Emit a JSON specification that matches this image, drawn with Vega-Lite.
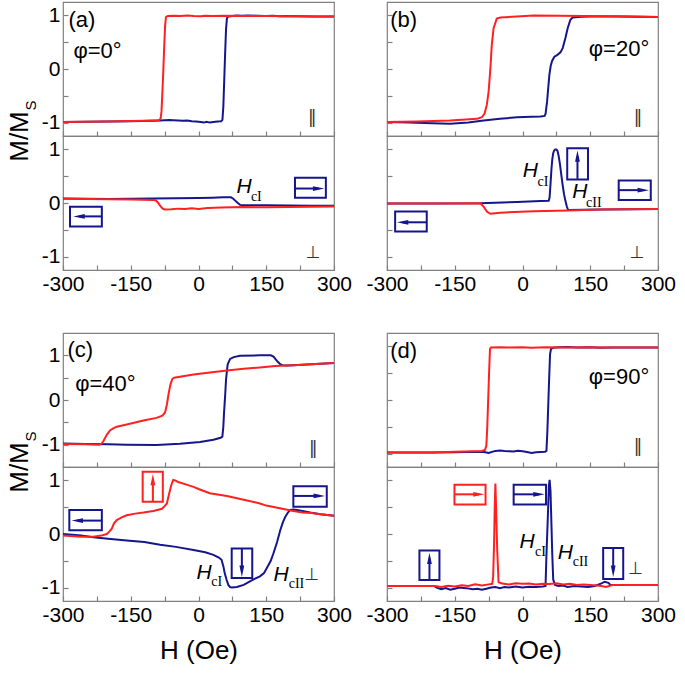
{
"$schema":"https://vega.github.io/schema/vega-lite/v6.json",
"background":"white",
"padding":{"left":5,"top":1,"right":5,"bottom":5},
"datasets":{
"au_up":[{"H":-300,"M":-0.99},{"H":-250,"M":-0.985},{"H":-200,"M":-0.98},{"H":-150,"M":-0.975},{"H":-100,"M":-0.965},{"H":-85,"M":-0.96},{"H":-75,"M":-0.955},{"H":-65,"M":-0.95},{"H":-55,"M":-0.955},{"H":-45,"M":-0.96},{"H":-35,"M":-0.965},{"H":-25,"M":-0.96},{"H":-15,"M":-0.975},{"H":-5,"M":-0.98},{"H":5,"M":-0.99},{"H":12,"M":-1.0},{"H":18,"M":-0.985},{"H":25,"M":-1.0},{"H":33,"M":-0.99},{"H":42,"M":-0.98},{"H":50,"M":-0.975},{"H":53,"M":-0.95},{"H":55,"M":-0.7},{"H":57,"M":-0.2},{"H":59,"M":0.3},{"H":61,"M":0.75},{"H":63,"M":0.95},{"H":66,"M":0.98},{"H":75,"M":0.99},{"H":85,"M":1.0},{"H":95,"M":0.995},{"H":110,"M":1.0},{"H":130,"M":0.995},{"H":150,"M":0.99},{"H":165,"M":0.995},{"H":180,"M":0.985},{"H":190,"M":0.99},{"H":220,"M":0.985},{"H":260,"M":0.98},{"H":300,"M":0.98}],
"au_dn":[{"H":-300,"M":-0.99},{"H":-250,"M":-0.985},{"H":-200,"M":-0.98},{"H":-150,"M":-0.97},{"H":-120,"M":-0.965},{"H":-100,"M":-0.96},{"H":-88,"M":-0.955},{"H":-84,"M":-0.93},{"H":-82,"M":-0.8},{"H":-80,"M":-0.45},{"H":-78,"M":-0.05},{"H":-76,"M":0.4},{"H":-74,"M":0.8},{"H":-72,"M":0.97},{"H":-68,"M":0.99},{"H":-55,"M":0.995},{"H":-40,"M":0.99},{"H":-25,"M":1.0},{"H":-10,"M":0.99},{"H":5,"M":0.985},{"H":15,"M":0.995},{"H":30,"M":0.99},{"H":60,"M":0.995},{"H":100,"M":0.99},{"H":150,"M":0.99},{"H":200,"M":0.985},{"H":250,"M":0.98},{"H":300,"M":0.98}],
"al_up":[{"H":-300,"M":0.085},{"H":-250,"M":0.08},{"H":-200,"M":0.075},{"H":-150,"M":0.08},{"H":-100,"M":0.085},{"H":-50,"M":0.09},{"H":0,"M":0.095},{"H":30,"M":0.1},{"H":55,"M":0.105},{"H":72,"M":0.105},{"H":77,"M":0.08},{"H":82,"M":0.04},{"H":87,"M":0.0},{"H":92,"M":-0.035},{"H":100,"M":-0.04},{"H":150,"M":-0.04},{"H":200,"M":-0.045},{"H":250,"M":-0.05},{"H":300,"M":-0.05}],
"al_dn":[{"H":-300,"M":0.08},{"H":-250,"M":0.075},{"H":-200,"M":0.07},{"H":-150,"M":0.065},{"H":-100,"M":0.055},{"H":-95,"M":0.05},{"H":-90,"M":0.01},{"H":-85,"M":-0.05},{"H":-80,"M":-0.1},{"H":-75,"M":-0.12},{"H":-60,"M":-0.115},{"H":-45,"M":-0.105},{"H":-30,"M":-0.11},{"H":-15,"M":-0.1},{"H":0,"M":-0.11},{"H":20,"M":-0.095},{"H":50,"M":-0.085},{"H":100,"M":-0.075},{"H":150,"M":-0.08},{"H":200,"M":-0.075},{"H":250,"M":-0.07},{"H":300,"M":-0.065}],
"bu_up":[{"H":-300,"M":-0.99},{"H":-250,"M":-1.0},{"H":-200,"M":-1.01},{"H":-160,"M":-1.02},{"H":-120,"M":-1.0},{"H":-86,"M":-0.96},{"H":-50,"M":-0.93},{"H":-12,"M":-0.9},{"H":20,"M":-0.89},{"H":40,"M":-0.885},{"H":49,"M":-0.875},{"H":51,"M":-0.84},{"H":54.4,"M":-0.61},{"H":57,"M":-0.35},{"H":59.5,"M":-0.11},{"H":62.5,"M":0.06},{"H":65.5,"M":0.15},{"H":70.6,"M":0.23},{"H":76.6,"M":0.26},{"H":84,"M":0.31},{"H":89,"M":0.39},{"H":95,"M":0.58},{"H":100,"M":0.76},{"H":106,"M":0.92},{"H":111,"M":0.96},{"H":130,"M":0.975},{"H":150,"M":0.98},{"H":200,"M":0.98},{"H":250,"M":0.975},{"H":300,"M":0.97}],
"bu_dn":[{"H":-300,"M":-0.99},{"H":-234,"M":-0.98},{"H":-160,"M":-0.96},{"H":-101,"M":-0.93},{"H":-90,"M":-0.9},{"H":-84,"M":-0.83},{"H":-79,"M":-0.67},{"H":-75,"M":-0.42},{"H":-71,"M":0.02},{"H":-68,"M":0.45},{"H":-64,"M":0.76},{"H":-57,"M":0.94},{"H":-49,"M":0.96},{"H":25,"M":1.0},{"H":136,"M":0.99},{"H":220,"M":0.985},{"H":300,"M":0.97}],
"bl_up":[{"H":-300,"M":-0.01},{"H":-200,"M":-0.01},{"H":-93.6,"M":-0.005},{"H":-12,"M":0.02},{"H":40,"M":0.035},{"H":58,"M":0.04},{"H":60,"M":0.1},{"H":62,"M":0.35},{"H":64,"M":0.62},{"H":66,"M":0.82},{"H":68,"M":0.93},{"H":70,"M":0.98},{"H":72.5,"M":1.0},{"H":75,"M":1.0},{"H":77.5,"M":0.97},{"H":80,"M":0.88},{"H":83,"M":0.72},{"H":86,"M":0.52},{"H":89,"M":0.33},{"H":92,"M":0.16},{"H":95,"M":0.04},{"H":98,"M":-0.06},{"H":101,"M":-0.13},{"H":172.7,"M":-0.12},{"H":300,"M":-0.11}],
"bl_dn":[{"H":-300,"M":-0.01},{"H":-200,"M":-0.01},{"H":-93.6,"M":-0.005},{"H":-86.2,"M":-0.068},{"H":-78.8,"M":-0.16},{"H":-71.4,"M":-0.2},{"H":-49,"M":-0.18},{"H":24.8,"M":-0.155},{"H":101,"M":-0.14},{"H":172.7,"M":-0.12},{"H":300,"M":-0.11}],
"cu_up":[{"H":-300,"M":-0.975},{"H":-250,"M":-0.985},{"H":-200,"M":-0.99},{"H":-159,"M":-1.0},{"H":-93,"M":-1.01},{"H":-41,"M":-0.98},{"H":3.5,"M":-0.94},{"H":33,"M":-0.89},{"H":49,"M":-0.845},{"H":52.8,"M":-0.82},{"H":55,"M":-0.6},{"H":56.5,"M":-0.29},{"H":59,"M":0.1},{"H":61,"M":0.46},{"H":64.6,"M":0.8},{"H":70,"M":0.92},{"H":78,"M":0.96},{"H":92,"M":0.99},{"H":136,"M":1.0},{"H":160,"M":1.0},{"H":166,"M":0.97},{"H":171,"M":0.91},{"H":176,"M":0.85},{"H":181,"M":0.8},{"H":187,"M":0.775},{"H":195,"M":0.77},{"H":210,"M":0.78},{"H":250,"M":0.8},{"H":300,"M":0.83}],
"cu_dn":[{"H":-300,"M":-0.985},{"H":-250,"M":-0.99},{"H":-220,"M":-1.0},{"H":-215,"M":-0.98},{"H":-211,"M":-0.93},{"H":-203,"M":-0.78},{"H":-196,"M":-0.68},{"H":-188,"M":-0.63},{"H":-181,"M":-0.6},{"H":-159,"M":-0.55},{"H":-122,"M":-0.46},{"H":-93,"M":-0.4},{"H":-80,"M":-0.35},{"H":-74,"M":-0.28},{"H":-70,"M":-0.1},{"H":-66,"M":0.15},{"H":-62,"M":0.35},{"H":-58,"M":0.47},{"H":-54,"M":0.5},{"H":-11,"M":0.57},{"H":30,"M":0.62},{"H":63,"M":0.66},{"H":100,"M":0.7},{"H":136,"M":0.73},{"H":170,"M":0.76},{"H":210,"M":0.78},{"H":250,"M":0.8},{"H":300,"M":0.83}],
"cl_up":[{"H":-300,"M":0.0},{"H":-260,"M":-0.03},{"H":-233,"M":-0.06},{"H":-200,"M":-0.09},{"H":-159,"M":-0.12},{"H":-120,"M":-0.15},{"H":-85,"M":-0.2},{"H":-50,"M":-0.24},{"H":-11,"M":-0.3},{"H":15,"M":-0.34},{"H":33,"M":-0.39},{"H":45,"M":-0.44},{"H":51,"M":-0.48},{"H":55,"M":-0.6},{"H":58,"M":-0.73},{"H":62,"M":-0.85},{"H":66,"M":-0.95},{"H":70,"M":-0.99},{"H":74,"M":-1.0},{"H":85,"M":-0.99},{"H":100,"M":-0.95},{"H":121,"M":-0.85},{"H":136,"M":-0.79},{"H":145,"M":-0.73},{"H":151,"M":-0.64},{"H":160,"M":-0.5},{"H":166,"M":-0.36},{"H":174,"M":-0.15},{"H":181,"M":0.07},{"H":187,"M":0.22},{"H":192,"M":0.32},{"H":198,"M":0.4},{"H":203,"M":0.45},{"H":210,"M":0.455},{"H":218,"M":0.45},{"H":230,"M":0.43},{"H":247,"M":0.4},{"H":270,"M":0.37},{"H":300,"M":0.34}],
"cl_dn":[{"H":-300,"M":-0.03},{"H":-260,"M":-0.05},{"H":-233,"M":-0.05},{"H":-215,"M":-0.03},{"H":-203,"M":0.0},{"H":-198,"M":0.04},{"H":-192,"M":0.1},{"H":-187,"M":0.2},{"H":-181,"M":0.26},{"H":-170,"M":0.31},{"H":-159,"M":0.35},{"H":-140,"M":0.38},{"H":-122,"M":0.4},{"H":-100,"M":0.43},{"H":-81,"M":0.47},{"H":-75,"M":0.52},{"H":-70,"M":0.57},{"H":-67,"M":0.68},{"H":-63,"M":0.82},{"H":-60,"M":0.92},{"H":-56,"M":1.01},{"H":-52,"M":1.0},{"H":-45,"M":0.97},{"H":-30,"M":0.93},{"H":-11,"M":0.88},{"H":0,"M":0.84},{"H":25,"M":0.76},{"H":63,"M":0.71},{"H":100,"M":0.64},{"H":136,"M":0.57},{"H":150,"M":0.53},{"H":180,"M":0.48},{"H":210,"M":0.43},{"H":230,"M":0.4},{"H":250,"M":0.39},{"H":270,"M":0.37},{"H":300,"M":0.34}],
"du_up":[{"H":-300,"M":-0.98},{"H":-200,"M":-0.98},{"H":-150,"M":-0.975},{"H":-100,"M":-0.965},{"H":-85,"M":-0.97},{"H":-75,"M":-0.99},{"H":-60,"M":-0.95},{"H":-50,"M":-0.94},{"H":-40,"M":-0.95},{"H":-30,"M":-0.955},{"H":-20,"M":-0.96},{"H":-10,"M":-0.945},{"H":0,"M":-0.955},{"H":10,"M":-0.97},{"H":20,"M":-0.99},{"H":30,"M":-0.975},{"H":40,"M":-0.97},{"H":50,"M":-0.965},{"H":53,"M":-0.95},{"H":55,"M":-0.6},{"H":57,"M":-0.1},{"H":59,"M":0.4},{"H":61,"M":0.85},{"H":63,"M":0.95},{"H":68,"M":0.975},{"H":80,"M":0.985},{"H":100,"M":0.99},{"H":120,"M":0.98},{"H":150,"M":0.985},{"H":170,"M":0.975},{"H":200,"M":0.98},{"H":300,"M":0.98}],
"du_dn":[{"H":-300,"M":-0.98},{"H":-250,"M":-0.98},{"H":-200,"M":-0.98},{"H":-150,"M":-0.965},{"H":-130,"M":-0.96},{"H":-110,"M":-0.955},{"H":-90,"M":-0.95},{"H":-83,"M":-0.93},{"H":-80,"M":-0.85},{"H":-78,"M":-0.5},{"H":-76,"M":0.0},{"H":-74,"M":0.5},{"H":-72,"M":0.95},{"H":-70,"M":0.98},{"H":-50,"M":0.985},{"H":-30,"M":0.98},{"H":0,"M":0.985},{"H":20,"M":0.975},{"H":50,"M":0.985},{"H":100,"M":0.98},{"H":150,"M":0.985},{"H":200,"M":0.98},{"H":300,"M":0.98}],
"dl_up":[{"H":-300,"M":-0.97},{"H":-250,"M":-0.97},{"H":-196,"M":-0.97},{"H":-190,"M":-1.0},{"H":-180,"M":-1.03},{"H":-170,"M":-1.01},{"H":-160,"M":-1.04},{"H":-150,"M":-1.02},{"H":-140,"M":-1.0},{"H":-125,"M":-1.01},{"H":-110,"M":-1.03},{"H":-100,"M":-1.02},{"H":-90,"M":-1.04},{"H":-80,"M":-1.02},{"H":-70,"M":-1.0},{"H":-60,"M":-0.99},{"H":-50,"M":-1.01},{"H":-40,"M":-0.99},{"H":-30,"M":-1.0},{"H":-15,"M":-0.98},{"H":0,"M":-1.0},{"H":15,"M":-0.985},{"H":30,"M":-0.99},{"H":45,"M":-0.98},{"H":51,"M":-0.97},{"H":53,"M":-0.4},{"H":56,"M":0.3},{"H":58.5,"M":0.9},{"H":60,"M":1.01},{"H":62,"M":0.8},{"H":64,"M":0.2},{"H":66,"M":-0.4},{"H":68,"M":-0.85},{"H":72,"M":-0.95},{"H":80,"M":-0.97},{"H":90,"M":-0.96},{"H":100,"M":-0.99},{"H":115,"M":-0.97},{"H":130,"M":-0.98},{"H":145,"M":-0.99},{"H":160,"M":-0.97},{"H":175,"M":-0.92},{"H":182,"M":-0.89},{"H":190,"M":-0.91},{"H":195,"M":-0.95},{"H":200,"M":-0.95},{"H":300,"M":-0.95}],
"dl_dn":[{"H":-300,"M":-0.97},{"H":-250,"M":-0.97},{"H":-196,"M":-0.97},{"H":-190,"M":-0.975},{"H":-180,"M":-0.99},{"H":-165,"M":-0.965},{"H":-150,"M":-0.98},{"H":-135,"M":-0.955},{"H":-120,"M":-0.97},{"H":-105,"M":-0.94},{"H":-90,"M":-0.96},{"H":-75,"M":-0.94},{"H":-67,"M":-0.93},{"H":-65,"M":-0.8},{"H":-63,"M":-0.2},{"H":-61.5,"M":0.5},{"H":-60,"M":0.94},{"H":-58.5,"M":0.5},{"H":-56,"M":-0.3},{"H":-53,"M":-0.9},{"H":-45,"M":-0.925},{"H":-30,"M":-0.94},{"H":-15,"M":-0.92},{"H":0,"M":-0.93},{"H":15,"M":-0.925},{"H":30,"M":-0.94},{"H":45,"M":-0.93},{"H":60,"M":-0.935},{"H":75,"M":-0.92},{"H":90,"M":-0.94},{"H":105,"M":-0.93},{"H":120,"M":-0.95},{"H":135,"M":-0.94},{"H":150,"M":-0.95},{"H":165,"M":-0.96},{"H":175,"M":-0.97},{"H":185,"M":-0.99},{"H":195,"M":-0.96},{"H":200,"M":-0.95},{"H":300,"M":-0.95}],
"texts":[
{"p":"au","k":"n","t":"(a)","H":-288,"M":0.91},{"p":"au","k":"n","t":"φ=0°","H":-277,"M":0.33},{"p":"au","k":"s","t":"‖","H":252,"M":-0.92},
{"p":"bu","k":"n","t":"(b)","H":-293,"M":0.92},{"p":"bu","k":"n","t":"φ=20°","H":146.8,"M":0.37},{"p":"bu","k":"s","t":"‖","H":255.6,"M":-0.92},
{"p":"cu","k":"n","t":"(c)","H":-290,"M":1.11},{"p":"cu","k":"n","t":"φ=40°","H":-273,"M":0.36},{"p":"cu","k":"s","t":"‖","H":254,"M":-1.09},
{"p":"du","k":"n","t":"(d)","H":-293,"M":0.92},{"p":"du","k":"n","t":"φ=90°","H":146.8,"M":0.42},{"p":"du","k":"s","t":"‖","H":255.6,"M":-0.87},
{"p":"al","k":"s","t":"⊥","H":254,"M":-0.93},{"p":"al","k":"h","t":"H","H":100.7,"M":0.29},{"p":"al","k":"c","t":"cI","H":128,"M":0.105},
{"p":"bl","k":"s","t":"⊥","H":254,"M":-0.93},{"p":"bl","k":"h","t":"H","H":17.4,"M":0.6},{"p":"bl","k":"c","t":"cI","H":45.5,"M":0.39},{"p":"bl","k":"h","t":"H","H":126.8,"M":0.2},{"p":"bl","k":"c","t":"cII","H":158,"M":-0.006},
{"p":"cl","k":"s","t":"⊥","H":251,"M":-0.76},{"p":"cl","k":"h","t":"H","H":12.2,"M":-0.73},{"p":"cl","k":"c","t":"cI","H":40.2,"M":-0.9},{"p":"cl","k":"h","t":"H","H":182.6,"M":-0.76},{"p":"cl","k":"c","t":"cII","H":217,"M":-0.94},
{"p":"dl","k":"s","t":"⊥","H":250.4,"M":-0.66},{"p":"dl","k":"h","t":"H","H":10,"M":-0.14},{"p":"dl","k":"c","t":"cI","H":39.6,"M":-0.33},{"p":"dl","k":"h","t":"H","H":95,"M":-0.36},{"p":"dl","k":"c","t":"cII","H":128.3,"M":-0.53}],
"boxes":[
{"p":"al","b":"up","H":-284.5,"H2":-214,"M":-0.07,"M2":-0.44},{"p":"al","b":"up","H":213.6,"H2":282,"M":0.1,"M2":0.47},
{"p":"bl","b":"up","H":-282,"H2":-212,"M":-0.53,"M2":-0.16},{"p":"bl","b":"up","H":99,"H2":145,"M":0.44,"M2":1.02},{"p":"bl","b":"up","H":213,"H2":284,"M":0.055,"M2":0.42},
{"p":"cl","b":"down","H":-123.6,"H2":-79,"M":0.6,"M2":1.16},{"p":"cl","b":"up","H":-286,"H2":-214,"M":0.07,"M2":0.45},{"p":"cl","b":"up","H":210,"H2":284,"M":0.51,"M2":0.89},{"p":"cl","b":"up","H":73.5,"H2":119,"M":-0.82,"M2":-0.27},
{"p":"dl","b":"up","H":-228.2,"H2":-183.9,"M":-0.86,"M2":-0.31},{"p":"dl","b":"down","H":-150.6,"H2":-81.8,"M":0.55,"M2":0.92},{"p":"dl","b":"up","H":-19.6,"H2":52.1,"M":0.55,"M2":0.92},{"p":"dl","b":"up","H":178.6,"H2":223,"M":-0.84,"M2":-0.26}],
"arrows":[
{"p":"al","b":"up","d":"l","H":-264.4,"M":-0.25,"H2":-214,"M2":-0.25},{"p":"al","b":"up","d":"r","H":266,"M":0.27,"H2":213.6,"M2":0.27},
{"p":"bl","b":"up","d":"l","H":-265.4,"M":-0.36,"H2":-212,"M2":-0.36},{"p":"bl","b":"up","d":"u","H":121.7,"M":0.875,"H2":121.7,"M2":0.45},{"p":"bl","b":"up","d":"r","H":267.4,"M":0.24,"H2":213,"M2":0.24},
{"p":"cl","b":"down","d":"u","H":-101,"M":1.015,"H2":-101,"M2":0.61},{"p":"cl","b":"up","d":"l","H":-268.4,"M":0.25,"H2":-214,"M2":0.25},{"p":"cl","b":"up","d":"r","H":267.4,"M":0.71,"H2":210,"M2":0.71},{"p":"cl","b":"up","d":"d","H":96,"M":-0.695,"H2":96,"M2":-0.28},
{"p":"dl","b":"up","d":"u","H":-206,"M":-0.455,"H2":-206,"M2":-0.85},{"p":"dl","b":"down","d":"r","H":-96.6,"M":0.74,"H2":-150.6,"M2":0.74},{"p":"dl","b":"up","d":"r","H":36.4,"M":0.74,"H2":-19.6,"M2":0.74},{"p":"dl","b":"up","d":"d","H":200.8,"M":-0.695,"H2":200.8,"M2":-0.27}]
},
"spacing":37,
"vconcat":[
{"hconcat":[
 {"vconcat":[
  {"width":271,"height":134,
   "encoding":{"x":{"field":"H","type":"quantitative","scale":{"domain":[-300,300],"nice":false,"zero":false},"axis":{"values":[-300,-225,-150,-75,0,75,150,225,300],"labels":false,"title":null}},
    "y":{"field":"M","type":"quantitative","scale":{"domain":[-1.25,1.25],"nice":false,"zero":false},"axis":{"values":[-1,-0.5,0,0.5,1],"labelExpr":"datum.value % 1 === 0 ? '' + datum.value : ''","title":"M/M","titleX":-44,"titleY":134,"titleAlign":"center","titleBaseline":"middle"}}},
   "layer":[
    {"data":{"name":"au_up"},"mark":{"type":"line","color":"#16168c","strokeWidth":2},"encoding":{}},
    {"data":{"name":"au_dn"},"mark":{"type":"line","color":"#ff2020","strokeWidth":2},"encoding":{}},
    {"data":{"name":"texts"},"transform":[{"filter":"datum.p=='au' && datum.k=='n'"}],"mark":{"type":"text","align":"left","baseline":"middle","fontSize":22,"color":"#000"},"encoding":{"text":{"field":"t"}}},
    {"data":{"name":"texts"},"transform":[{"filter":"datum.p=='au' && datum.k=='s'"}],"mark":{"type":"text","align":"center","baseline":"middle","fontSize":17,"font":"DejaVu Sans","color":"#333"},"encoding":{"text":{"field":"t"}}}
   ]},
  {"width":271,"height":134,
   "encoding":{"x":{"field":"H","type":"quantitative","scale":{"domain":[-300,300],"nice":false,"zero":false},"axis":{"values":[-300,-225,-150,-75,0,75,150,225,300],"labelExpr":"datum.value % 150 === 0 ? '' + datum.value : ''","title":null}},
    "y":{"field":"M","type":"quantitative","scale":{"domain":[-1.25,1.25],"nice":false,"zero":false},"axis":{"values":[-1,-0.5,0,0.5,1],"labelExpr":"datum.value % 1 === 0 ? '' + datum.value : ''","title":"S","titleFontSize":15,"titleX":-33,"titleY":-31,"titleAlign":"center","titleBaseline":"middle"}}},
   "layer":[
    {"data":{"name":"al_up"},"mark":{"type":"line","color":"#16168c","strokeWidth":2},"encoding":{}},
    {"data":{"name":"al_dn"},"mark":{"type":"line","color":"#ff2020","strokeWidth":2},"encoding":{}},
    {"data":{"name":"boxes"},"transform":[{"filter":"datum.p=='al'"}],"mark":{"type":"rect","filled":false,"strokeWidth":2},"encoding":{"x2":{"field":"H2"},"y2":{"field":"M2"},"color":{"field":"b","type":"nominal","scale":{"domain":["up","down"],"range":["#16168c","#ff2020"]},"legend":null}}},
    {"data":{"name":"arrows"},"transform":[{"filter":"datum.p=='al'"}],"mark":{"type":"rule","strokeWidth":2},"encoding":{"x2":{"field":"H2"},"y2":{"field":"M2"},"color":{"field":"b","type":"nominal","scale":{"domain":["up","down"],"range":["#16168c","#ff2020"]},"legend":null}}},
    {"data":{"name":"arrows"},"transform":[{"filter":"datum.p=='al'"}],"mark":{"type":"point","filled":true,"opacity":1,"size":130},"encoding":{"color":{"field":"b","type":"nominal","scale":{"domain":["up","down"],"range":["#16168c","#ff2020"]},"legend":null},"shape":{"field":"d","type":"nominal","scale":{"domain":["u","r","d","l"],"range":["M0,-1L0.42,1L-0.42,1Z","M1,0L-1,0.42L-1,-0.42Z","M0,1L0.42,-1L-0.42,-1Z","M-1,0L1,0.42L1,-0.42Z"]},"legend":null}}},
    {"data":{"name":"texts"},"transform":[{"filter":"datum.p=='al' && datum.k=='s'"}],"mark":{"type":"text","align":"center","baseline":"middle","fontSize":17,"font":"DejaVu Sans","color":"#333"},"encoding":{"text":{"field":"t"}}},
    {"data":{"name":"texts"},"transform":[{"filter":"datum.p=='al' && datum.k=='h'"}],"mark":{"type":"text","align":"center","baseline":"middle","fontSize":21,"fontStyle":"italic","color":"#000"},"encoding":{"text":{"field":"t"}}},
    {"data":{"name":"texts"},"transform":[{"filter":"datum.p=='al' && datum.k=='c'"}],"mark":{"type":"text","align":"center","baseline":"middle","fontSize":14,"font":"Liberation Serif","color":"#000"},"encoding":{"text":{"field":"t"}}}
   ]}
 ],"spacing":0,"bounds":"flush"},
 {"vconcat":[
  {"width":271,"height":134,
   "encoding":{"x":{"field":"H","type":"quantitative","scale":{"domain":[-300,300],"nice":false,"zero":false},"axis":{"values":[-300,-225,-150,-75,0,75,150,225,300],"labels":false,"title":null}},
    "y":{"field":"M","type":"quantitative","scale":{"domain":[-1.25,1.25],"nice":false,"zero":false},"axis":{"values":[-1,-0.5,0,0.5,1],"labels":false,"title":null}}},
   "layer":[
    {"data":{"name":"bu_up"},"mark":{"type":"line","color":"#16168c","strokeWidth":2},"encoding":{}},
    {"data":{"name":"bu_dn"},"mark":{"type":"line","color":"#ff2020","strokeWidth":2},"encoding":{}},
    {"data":{"name":"texts"},"transform":[{"filter":"datum.p=='bu' && datum.k=='n'"}],"mark":{"type":"text","align":"left","baseline":"middle","fontSize":22,"color":"#000"},"encoding":{"text":{"field":"t"}}},
    {"data":{"name":"texts"},"transform":[{"filter":"datum.p=='bu' && datum.k=='s'"}],"mark":{"type":"text","align":"center","baseline":"middle","fontSize":17,"font":"DejaVu Sans","color":"#333"},"encoding":{"text":{"field":"t"}}}
   ]},
  {"width":271,"height":134,
   "encoding":{"x":{"field":"H","type":"quantitative","scale":{"domain":[-300,300],"nice":false,"zero":false},"axis":{"values":[-300,-225,-150,-75,0,75,150,225,300],"labelExpr":"datum.value % 150 === 0 ? '' + datum.value : ''","title":null}},
    "y":{"field":"M","type":"quantitative","scale":{"domain":[-1.25,1.25],"nice":false,"zero":false},"axis":{"values":[-1,-0.5,0,0.5,1],"labels":false,"title":null}}},
   "layer":[
    {"data":{"name":"bl_up"},"mark":{"type":"line","color":"#16168c","strokeWidth":2},"encoding":{}},
    {"data":{"name":"bl_dn"},"mark":{"type":"line","color":"#ff2020","strokeWidth":2},"encoding":{}},
    {"data":{"name":"boxes"},"transform":[{"filter":"datum.p=='bl'"}],"mark":{"type":"rect","filled":false,"strokeWidth":2},"encoding":{"x2":{"field":"H2"},"y2":{"field":"M2"},"color":{"field":"b","type":"nominal","scale":{"domain":["up","down"],"range":["#16168c","#ff2020"]},"legend":null}}},
    {"data":{"name":"arrows"},"transform":[{"filter":"datum.p=='bl'"}],"mark":{"type":"rule","strokeWidth":2},"encoding":{"x2":{"field":"H2"},"y2":{"field":"M2"},"color":{"field":"b","type":"nominal","scale":{"domain":["up","down"],"range":["#16168c","#ff2020"]},"legend":null}}},
    {"data":{"name":"arrows"},"transform":[{"filter":"datum.p=='bl'"}],"mark":{"type":"point","filled":true,"opacity":1,"size":130},"encoding":{"color":{"field":"b","type":"nominal","scale":{"domain":["up","down"],"range":["#16168c","#ff2020"]},"legend":null},"shape":{"field":"d","type":"nominal","scale":{"domain":["u","r","d","l"],"range":["M0,-1L0.42,1L-0.42,1Z","M1,0L-1,0.42L-1,-0.42Z","M0,1L0.42,-1L-0.42,-1Z","M-1,0L1,0.42L1,-0.42Z"]},"legend":null}}},
    {"data":{"name":"texts"},"transform":[{"filter":"datum.p=='bl' && datum.k=='s'"}],"mark":{"type":"text","align":"center","baseline":"middle","fontSize":17,"font":"DejaVu Sans","color":"#333"},"encoding":{"text":{"field":"t"}}},
    {"data":{"name":"texts"},"transform":[{"filter":"datum.p=='bl' && datum.k=='h'"}],"mark":{"type":"text","align":"center","baseline":"middle","fontSize":21,"fontStyle":"italic","color":"#000"},"encoding":{"text":{"field":"t"}}},
    {"data":{"name":"texts"},"transform":[{"filter":"datum.p=='bl' && datum.k=='c'"}],"mark":{"type":"text","align":"center","baseline":"middle","fontSize":14,"font":"Liberation Serif","color":"#000"},"encoding":{"text":{"field":"t"}}}
   ]}
 ],"spacing":0,"bounds":"flush"}
],"spacing":12},
{"hconcat":[
 {"vconcat":[
  {"width":271,"height":134,
   "encoding":{"x":{"field":"H","type":"quantitative","scale":{"domain":[-300,300],"nice":false,"zero":false},"axis":{"values":[-300,-225,-150,-75,0,75,150,225,300],"labels":false,"title":null}},
    "y":{"field":"M","type":"quantitative","scale":{"domain":[-1.5,1.5],"nice":false,"zero":false},"axis":{"values":[-1,-0.5,0,0.5,1],"labelExpr":"datum.value % 1 === 0 ? '' + datum.value : ''","title":"M/M","titleX":-44,"titleY":134,"titleAlign":"center","titleBaseline":"middle"}}},
   "layer":[
    {"data":{"name":"cu_up"},"mark":{"type":"line","color":"#16168c","strokeWidth":2},"encoding":{}},
    {"data":{"name":"cu_dn"},"mark":{"type":"line","color":"#ff2020","strokeWidth":2},"encoding":{}},
    {"data":{"name":"texts"},"transform":[{"filter":"datum.p=='cu' && datum.k=='n'"}],"mark":{"type":"text","align":"left","baseline":"middle","fontSize":22,"color":"#000"},"encoding":{"text":{"field":"t"}}},
    {"data":{"name":"texts"},"transform":[{"filter":"datum.p=='cu' && datum.k=='s'"}],"mark":{"type":"text","align":"center","baseline":"middle","fontSize":17,"font":"DejaVu Sans","color":"#333"},"encoding":{"text":{"field":"t"}}}
   ]},
  {"width":271,"height":134,
   "encoding":{"x":{"field":"H","type":"quantitative","scale":{"domain":[-300,300],"nice":false,"zero":false},"axis":{"values":[-300,-225,-150,-75,0,75,150,225,300],"labelExpr":"datum.value % 150 === 0 ? '' + datum.value : ''","title":"H (Oe)","titlePadding":12}},
    "y":{"field":"M","type":"quantitative","scale":{"domain":[-1.25,1.25],"nice":false,"zero":false},"axis":{"values":[-1,-0.5,0,0.5,1],"labelExpr":"datum.value % 1 === 0 ? '' + datum.value : ''","title":"S","titleFontSize":15,"titleX":-33,"titleY":-31,"titleAlign":"center","titleBaseline":"middle"}}},
   "layer":[
    {"data":{"name":"cl_up"},"mark":{"type":"line","color":"#16168c","strokeWidth":2},"encoding":{}},
    {"data":{"name":"cl_dn"},"mark":{"type":"line","color":"#ff2020","strokeWidth":2},"encoding":{}},
    {"data":{"name":"boxes"},"transform":[{"filter":"datum.p=='cl'"}],"mark":{"type":"rect","filled":false,"strokeWidth":2},"encoding":{"x2":{"field":"H2"},"y2":{"field":"M2"},"color":{"field":"b","type":"nominal","scale":{"domain":["up","down"],"range":["#16168c","#ff2020"]},"legend":null}}},
    {"data":{"name":"arrows"},"transform":[{"filter":"datum.p=='cl'"}],"mark":{"type":"rule","strokeWidth":2},"encoding":{"x2":{"field":"H2"},"y2":{"field":"M2"},"color":{"field":"b","type":"nominal","scale":{"domain":["up","down"],"range":["#16168c","#ff2020"]},"legend":null}}},
    {"data":{"name":"arrows"},"transform":[{"filter":"datum.p=='cl'"}],"mark":{"type":"point","filled":true,"opacity":1,"size":130},"encoding":{"color":{"field":"b","type":"nominal","scale":{"domain":["up","down"],"range":["#16168c","#ff2020"]},"legend":null},"shape":{"field":"d","type":"nominal","scale":{"domain":["u","r","d","l"],"range":["M0,-1L0.42,1L-0.42,1Z","M1,0L-1,0.42L-1,-0.42Z","M0,1L0.42,-1L-0.42,-1Z","M-1,0L1,0.42L1,-0.42Z"]},"legend":null}}},
    {"data":{"name":"texts"},"transform":[{"filter":"datum.p=='cl' && datum.k=='s'"}],"mark":{"type":"text","align":"center","baseline":"middle","fontSize":17,"font":"DejaVu Sans","color":"#333"},"encoding":{"text":{"field":"t"}}},
    {"data":{"name":"texts"},"transform":[{"filter":"datum.p=='cl' && datum.k=='h'"}],"mark":{"type":"text","align":"center","baseline":"middle","fontSize":21,"fontStyle":"italic","color":"#000"},"encoding":{"text":{"field":"t"}}},
    {"data":{"name":"texts"},"transform":[{"filter":"datum.p=='cl' && datum.k=='c'"}],"mark":{"type":"text","align":"center","baseline":"middle","fontSize":14,"font":"Liberation Serif","color":"#000"},"encoding":{"text":{"field":"t"}}}
   ]}
 ],"spacing":0,"bounds":"flush"},
 {"vconcat":[
  {"width":271,"height":134,
   "encoding":{"x":{"field":"H","type":"quantitative","scale":{"domain":[-300,300],"nice":false,"zero":false},"axis":{"values":[-300,-225,-150,-75,0,75,150,225,300],"labels":false,"title":null}},
    "y":{"field":"M","type":"quantitative","scale":{"domain":[-1.25,1.25],"nice":false,"zero":false},"axis":{"values":[-1,-0.5,0,0.5,1],"labels":false,"title":null}}},
   "layer":[
    {"data":{"name":"du_up"},"mark":{"type":"line","color":"#16168c","strokeWidth":2},"encoding":{}},
    {"data":{"name":"du_dn"},"mark":{"type":"line","color":"#ff2020","strokeWidth":2},"encoding":{}},
    {"data":{"name":"texts"},"transform":[{"filter":"datum.p=='du' && datum.k=='n'"}],"mark":{"type":"text","align":"left","baseline":"middle","fontSize":22,"color":"#000"},"encoding":{"text":{"field":"t"}}},
    {"data":{"name":"texts"},"transform":[{"filter":"datum.p=='du' && datum.k=='s'"}],"mark":{"type":"text","align":"center","baseline":"middle","fontSize":17,"font":"DejaVu Sans","color":"#333"},"encoding":{"text":{"field":"t"}}}
   ]},
  {"width":271,"height":134,
   "encoding":{"x":{"field":"H","type":"quantitative","scale":{"domain":[-300,300],"nice":false,"zero":false},"axis":{"values":[-300,-225,-150,-75,0,75,150,225,300],"labelExpr":"datum.value % 150 === 0 ? '' + datum.value : ''","title":"H (Oe)","titlePadding":12}},
    "y":{"field":"M","type":"quantitative","scale":{"domain":[-1.25,1.25],"nice":false,"zero":false},"axis":{"values":[-1,-0.5,0,0.5,1],"labels":false,"title":null}}},
   "layer":[
    {"data":{"name":"dl_up"},"mark":{"type":"line","color":"#16168c","strokeWidth":2},"encoding":{}},
    {"data":{"name":"dl_dn"},"mark":{"type":"line","color":"#ff2020","strokeWidth":2},"encoding":{}},
    {"data":{"name":"boxes"},"transform":[{"filter":"datum.p=='dl'"}],"mark":{"type":"rect","filled":false,"strokeWidth":2},"encoding":{"x2":{"field":"H2"},"y2":{"field":"M2"},"color":{"field":"b","type":"nominal","scale":{"domain":["up","down"],"range":["#16168c","#ff2020"]},"legend":null}}},
    {"data":{"name":"arrows"},"transform":[{"filter":"datum.p=='dl'"}],"mark":{"type":"rule","strokeWidth":2},"encoding":{"x2":{"field":"H2"},"y2":{"field":"M2"},"color":{"field":"b","type":"nominal","scale":{"domain":["up","down"],"range":["#16168c","#ff2020"]},"legend":null}}},
    {"data":{"name":"arrows"},"transform":[{"filter":"datum.p=='dl'"}],"mark":{"type":"point","filled":true,"opacity":1,"size":130},"encoding":{"color":{"field":"b","type":"nominal","scale":{"domain":["up","down"],"range":["#16168c","#ff2020"]},"legend":null},"shape":{"field":"d","type":"nominal","scale":{"domain":["u","r","d","l"],"range":["M0,-1L0.42,1L-0.42,1Z","M1,0L-1,0.42L-1,-0.42Z","M0,1L0.42,-1L-0.42,-1Z","M-1,0L1,0.42L1,-0.42Z"]},"legend":null}}},
    {"data":{"name":"texts"},"transform":[{"filter":"datum.p=='dl' && datum.k=='s'"}],"mark":{"type":"text","align":"center","baseline":"middle","fontSize":17,"font":"DejaVu Sans","color":"#333"},"encoding":{"text":{"field":"t"}}},
    {"data":{"name":"texts"},"transform":[{"filter":"datum.p=='dl' && datum.k=='h'"}],"mark":{"type":"text","align":"center","baseline":"middle","fontSize":21,"fontStyle":"italic","color":"#000"},"encoding":{"text":{"field":"t"}}},
    {"data":{"name":"texts"},"transform":[{"filter":"datum.p=='dl' && datum.k=='c'"}],"mark":{"type":"text","align":"center","baseline":"middle","fontSize":14,"font":"Liberation Serif","color":"#000"},"encoding":{"text":{"field":"t"}}}
   ]}
 ],"spacing":0,"bounds":"flush"}
],"spacing":12}
],
"config":{
 "font":"Liberation Sans",
 "view":{"stroke":"#808080","strokeWidth":1.2},
 "axis":{"grid":false,"domain":false,"ticks":true,"tickSize":-5,"tickColor":"#808080","tickWidth":1.2,"labelFontSize":21,"labelColor":"#000000","labelFont":"Liberation Sans","labelPadding":8,"labelOverlap":false,"labelFlush":false,"titleFont":"Liberation Sans","titleFontWeight":"normal","titleColor":"#000000","titleFontSize":26}
}
}
